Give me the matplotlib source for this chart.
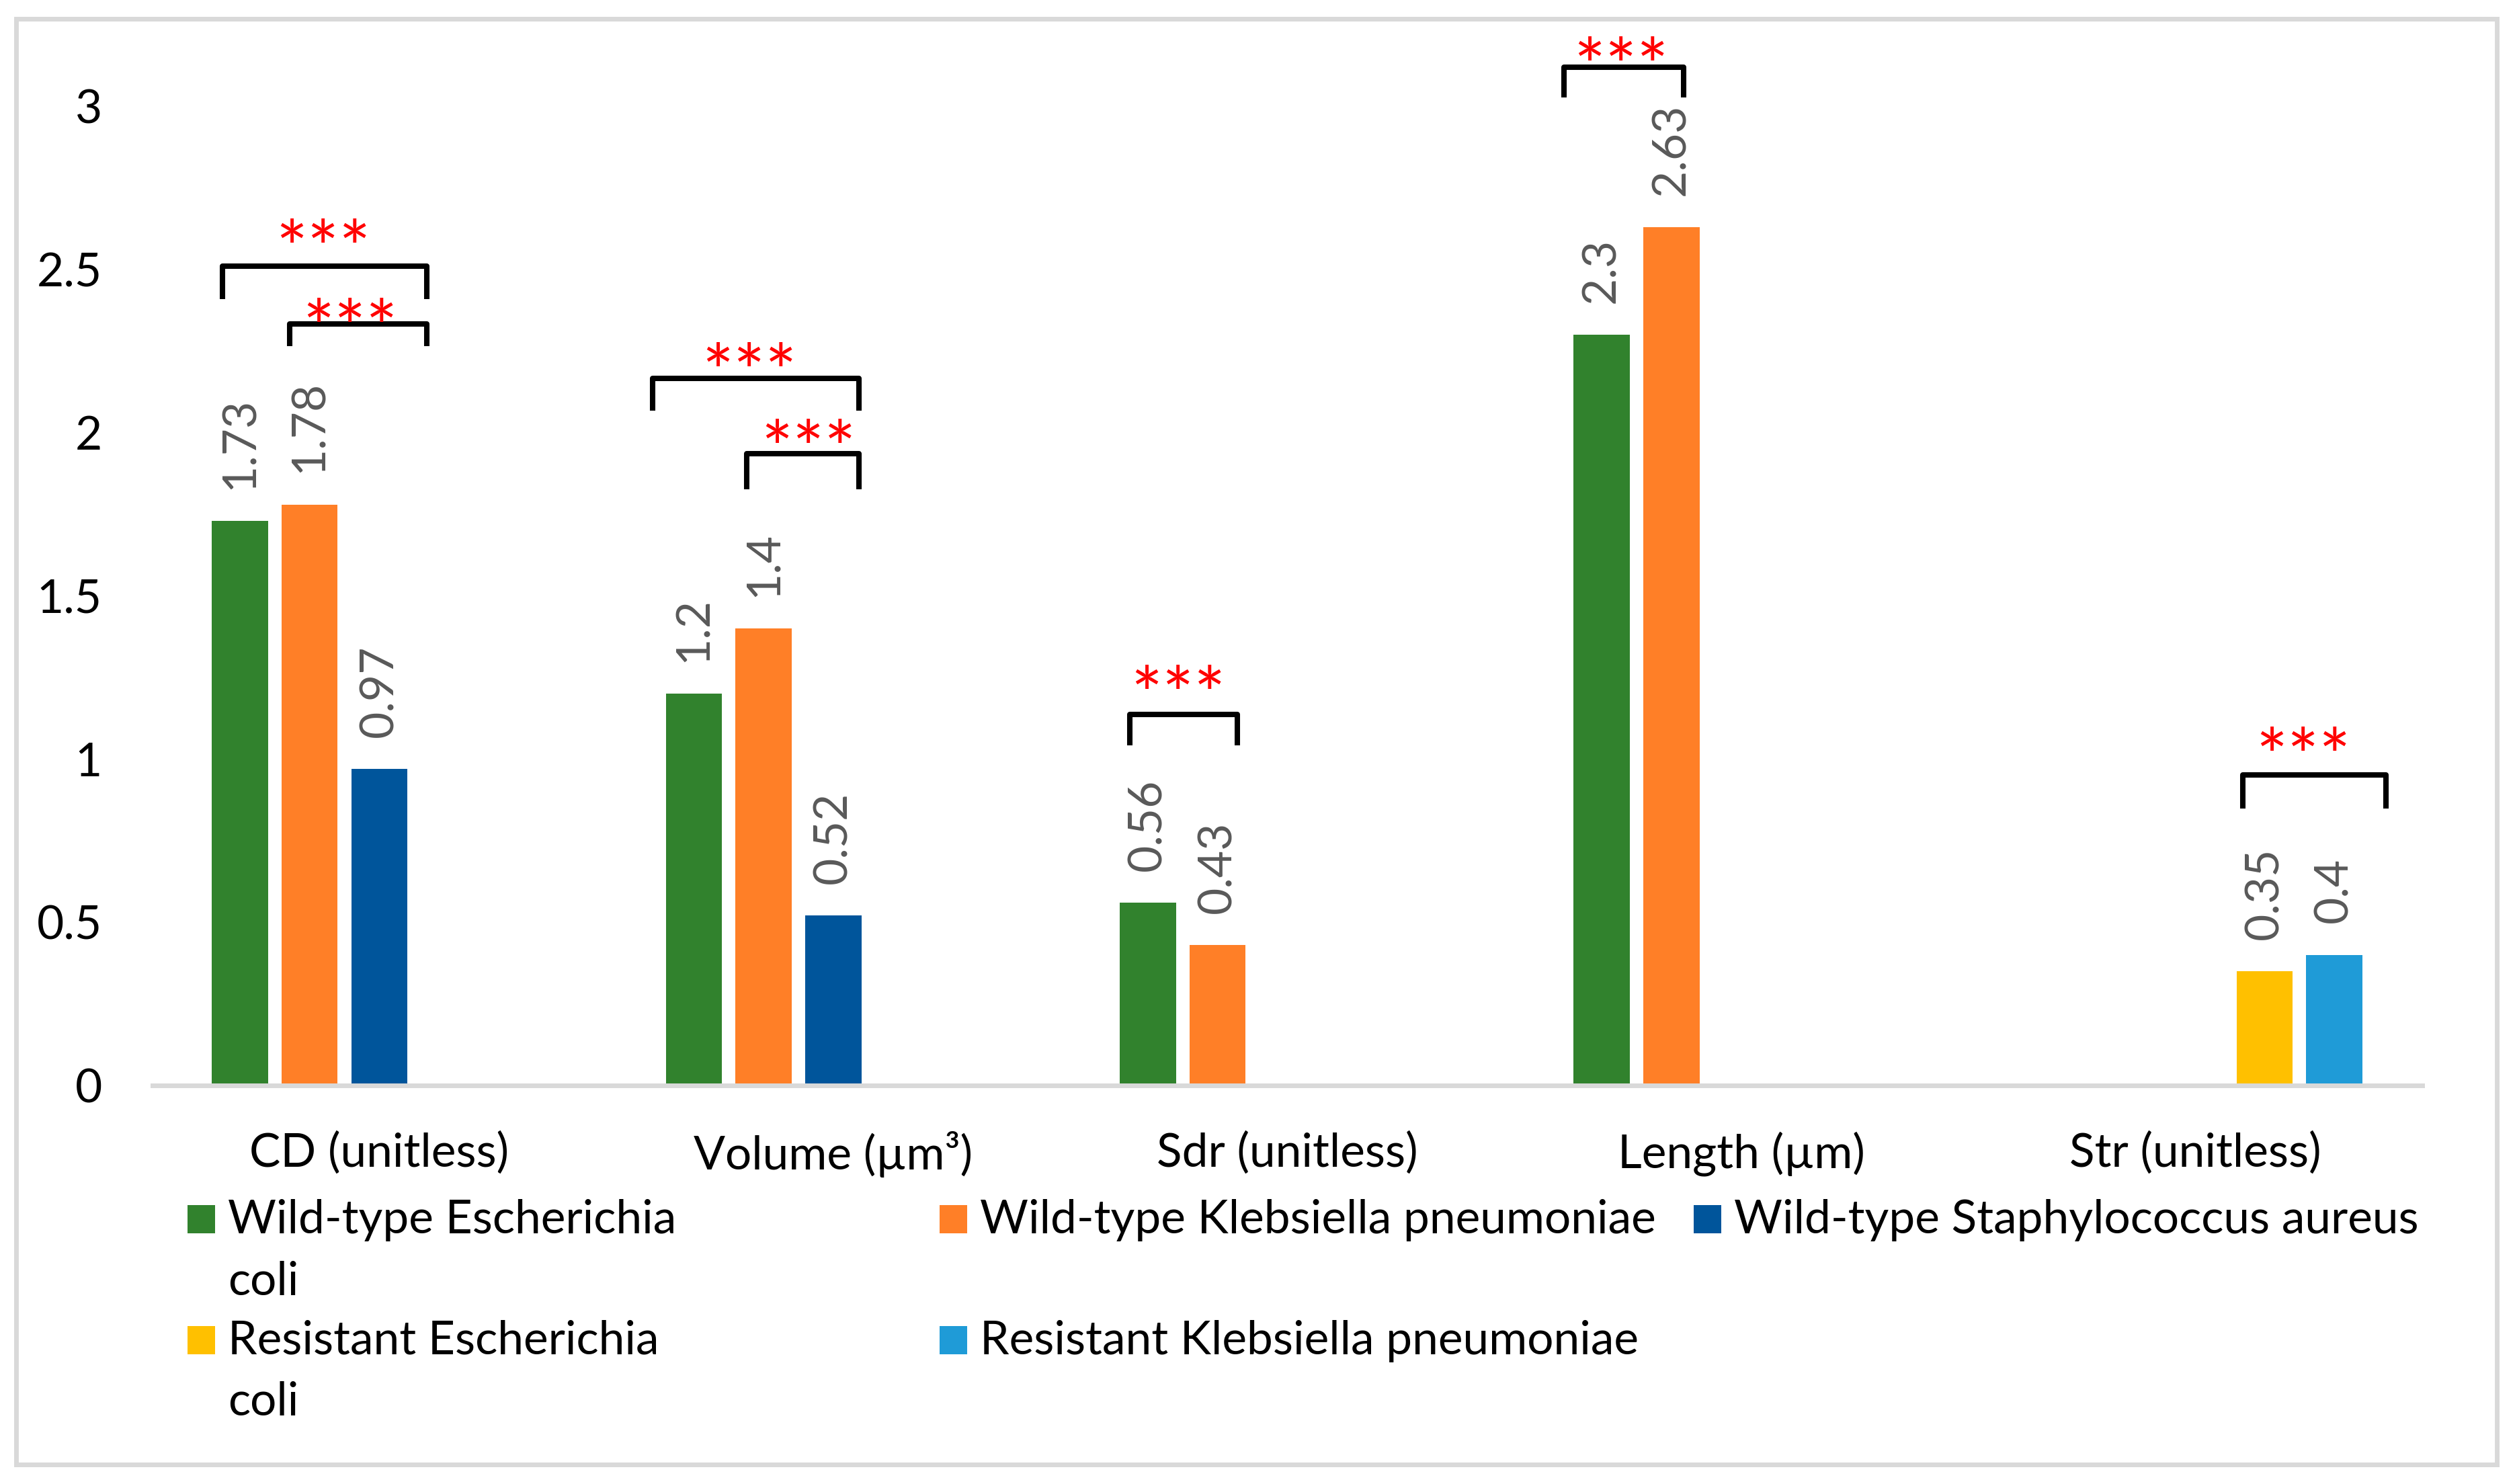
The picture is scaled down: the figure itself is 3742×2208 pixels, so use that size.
import matplotlib
matplotlib.use("Agg")
import matplotlib.pyplot as plt
import numpy as np
from matplotlib.patches import Rectangle
from matplotlib.lines import Line2D

plt.rcParams['font.family'] = ['Lato', 'DejaVu Sans']

# ---- data ----
categories = ["CD (unitless)", "Volume (µm³)", "Sdr (unitless)", "Length (µm)", "Str (unitless)"]
series_names = ["Wild-type Escherichia coli", "Wild-type Klebsiella pneumoniae",
                "Wild-type Staphylococcus aureus", "Resistant Escherichia coli",
                "Resistant Klebsiella pneumoniae"]
wt_ecoli = [1.73, 1.2, 0.56, 2.3, np.nan]
wt_kpneumoniae = [1.78, 1.4, 0.43, 2.63, np.nan]
wt_saureus = [0.97, 0.52, np.nan, np.nan, np.nan]
res_ecoli = [np.nan, np.nan, np.nan, np.nan, 0.35]
res_kpneumoniae = [np.nan, np.nan, np.nan, np.nan, 0.4]
yticks = [0, 0.5, 1, 1.5, 2, 2.5, 3]
ytick_labels = ["0", "0.5", "1", "1.5", "2", "2.5", "3"]
sig_label = "***"
# significance brackets: (x_left, x_right, y_top, y_leg_end, star_x, star_y)
brackets = [
    (-0.346, 0.104, 2.510, 2.409, -0.124, 2.615),
    (-0.198, 0.104, 2.333, 2.266, -0.065, 2.372),
    (0.602, 1.057, 2.166, 2.067, 0.815, 2.237),
    (0.809, 1.057, 1.935, 1.827, 0.946, 2.003),
    (1.654, 1.890, 1.136, 1.041, 1.760, 1.249),
    (2.610, 2.874, 3.120, 3.026, 2.736, 3.173),
    (4.106, 4.421, 0.952, 0.849, 4.239, 1.060),
]

series = [wt_ecoli, wt_kpneumoniae, wt_saureus, res_ecoli, res_kpneumoniae]
colors = ["#31822D", "#FF7F27", "#00559B", "#FFC000", "#1F9BD7"]

W, H, DPI = 3742, 2208, 200
FS = 25
STAR_FS = 40

fig = plt.figure(figsize=(W / DPI, H / DPI), dpi=DPI)
ax = fig.add_axes([0.0606, 0.2686, 0.963 - 0.0606, 0.9724 - 0.2686])

x = np.arange(len(categories))
pitch = 0.1535
width = 0.1235
for i, (vals, color, name) in enumerate(zip(series, colors, series_names)):
    pos = x + (i - 2) * pitch
    ax.bar(pos, vals, width, color=color, label=name)
    for p, v in zip(pos, vals):
        if not np.isnan(v):
            ax.annotate(f"{v:g}", (p, v), xytext=(0, 17), textcoords="offset points",
                        rotation=90, ha="center", va="bottom", color="#595959",
                        fontsize=FS)

ax.set_xlim(-0.5, 4.5)
ax.set_ylim(0, 3.2)
ax.set_xticks(x)
ax.set_xticklabels(categories, fontsize=FS)
ax.set_yticks(yticks)
ax.set_yticklabels(ytick_labels, fontsize=FS)
ax.tick_params(axis="y", length=0, pad=27)
ax.tick_params(axis="x", length=0, pad=24.5)
for s in ["top", "right", "left"]:
    ax.spines[s].set_visible(False)
ax.spines["bottom"].set_color("#D9D9D9")
ax.spines["bottom"].set_linewidth(2.5)

for xl, xr, yt, yb, sx, sy in brackets:
    ax.add_line(Line2D([xl, xl, xr, xr], [yb, yt, yt, yb], color="black", lw=2.9,
                       solid_joinstyle="round", solid_capstyle="butt", clip_on=False))
    ax.annotate(sig_label, (sx, sy), xytext=(0, -0.30 * STAR_FS), textcoords="offset points",
                color="red", fontsize=STAR_FS, ha="center", va="center",
                annotation_clip=False)

# legend (manual, Excel-like layout)
legend_pos = [(0.0746, 0.1689), (0.3737, 0.1689), (0.6735, 0.1689),
              (0.0746, 0.0875), (0.3737, 0.0875)]
line_pitch = 91.6 / H
for (mx, by), color, name in zip(legend_pos, colors, series_names):
    fig.add_artist(Rectangle((mx, by), 41 / W, 42 / H, transform=fig.transFigure,
                             facecolor=color, edgecolor="none"))
    label = name.replace("Escherichia coli", "Escherichia\ncoli")
    nlines = label.count("\n") + 1
    fig.text(mx + 60 / W, by - (nlines - 1) * line_pitch, label, fontsize=FS,
             ha="left", va="baseline", linespacing=1.56)

# outer frame
fig.add_artist(Rectangle((23.5 / W, 1 - 2178.5 / H), (3715 - 23.5) / W, (2178.5 - 27.5) / H,
                         transform=fig.transFigure, fill=False, edgecolor="#D9D9D9",
                         lw=2.5))

fig.savefig("out.png", dpi=DPI, facecolor="white")
